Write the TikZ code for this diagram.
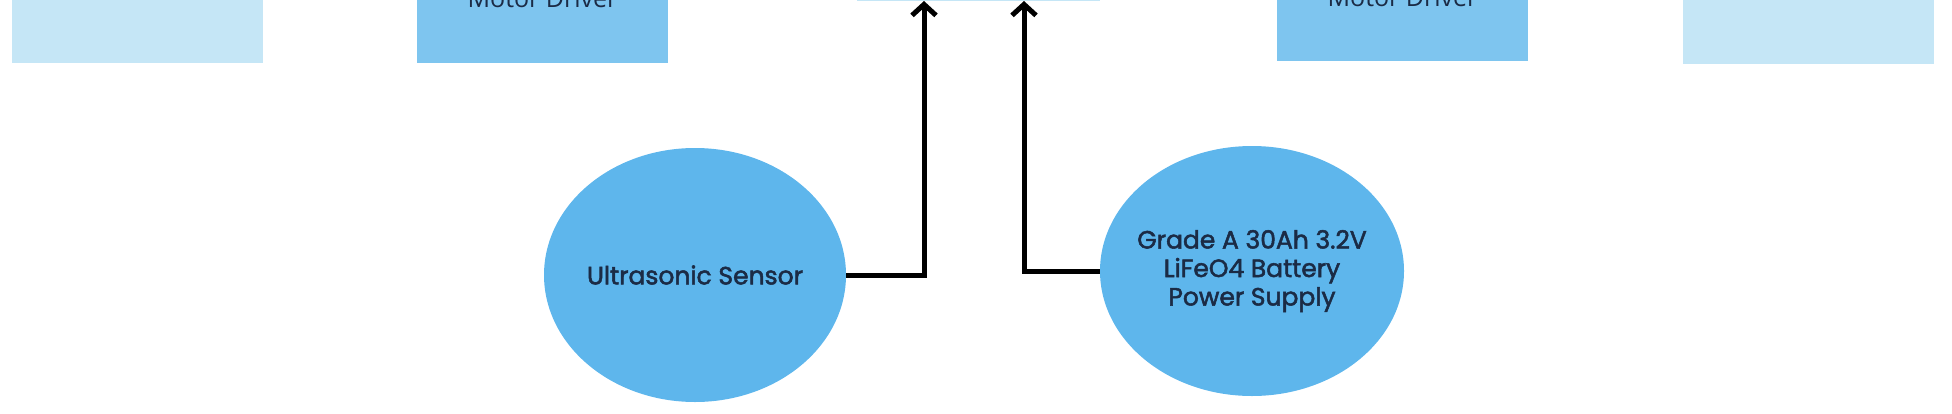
\documentclass[tikz,border=0pt]{standalone}
\usepackage{fontspec}
\setmainfont{Poppins}[BoldFont=Poppins,BoldFeatures={FakeBold=2}]
\newfontfamily\boxfont{Open Sans}
\usetikzlibrary{arrows.meta,shapes.geometric}
\definecolor{ellblue}{HTML}{5EB6EC}
\definecolor{drvblue}{HTML}{7EC5EF}
\definecolor{lightblue}{HTML}{C5E6F6}
\definecolor{navy}{HTML}{1B2B45}
\begin{document}
\begin{tikzpicture}[x=1pt,y=-1pt,
  lightbox/.style={rectangle,fill=lightblue,minimum width=251pt,anchor=south,inner sep=0pt},
  drvbox/.style={rectangle,fill=drvblue,minimum width=251pt,anchor=south,inner sep=0pt,
    font=\boxfont\fontsize{25}{30}\selectfont,text=navy},
  ellnode/.style={ellipse,fill=ellblue,inner sep=0pt},
  elltext/.style={align=center,inner sep=0pt,font=\bfseries\fontsize{25}{28.5}\selectfont,text=navy},
  conn/.style={line width=5pt,black,line join=miter,-{Straight Barb[length=11pt,width=24pt,line join=miter]}}
]
\useasboundingbox (0,0) rectangle (1952,413);
\clip (0,0) rectangle (1952,413);

\node[lightbox,minimum height=160pt] (lb1) at (137.5,63) {};
\node[drvbox,minimum height=128pt] (md1) at (542.5,63) {Motor Driver};
\node[lightbox,minimum height=160pt,minimum width=243pt] (ctrl) at (978.5,1) {};
\node[drvbox,minimum height=126pt] (md2) at (1402.5,61) {Motor Driver};
\node[lightbox,minimum height=160pt] (lb2) at (1808.5,64) {};

\node[ellnode,minimum width=302pt,minimum height=254pt,
  label={[elltext]center:Ultrasonic Sensor}] (us) at (695,275) {};
\node[ellnode,minimum width=304pt,minimum height=250pt,
  label={[elltext]center:Grade A 30Ah 3.2V\\LiFeO4 Battery\\Power Supply}] (bat) at (1252,271) {};

\draw[conn] (us.east) -| ([xshift=-54.5pt]ctrl.south);
\draw[conn] (bat.west) -| ([xshift=45.5pt]ctrl.south);
\end{tikzpicture}
\end{document}
